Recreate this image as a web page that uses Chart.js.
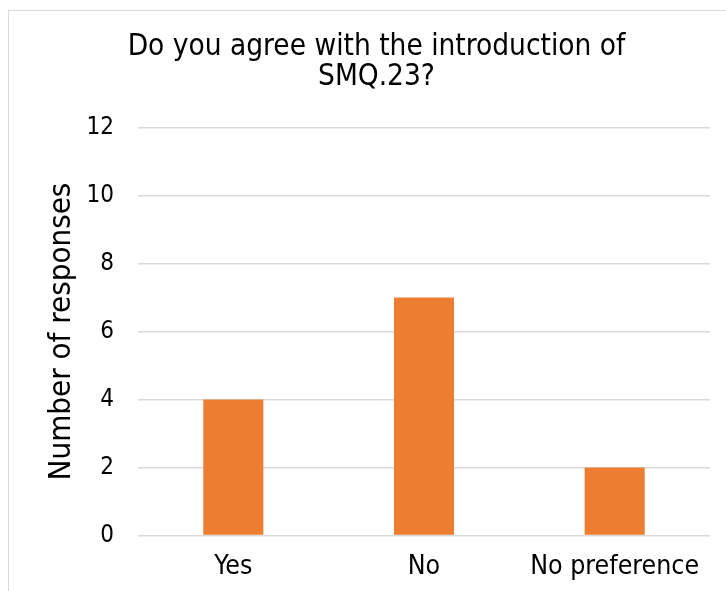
<!DOCTYPE html>
<html>
<head>
<meta charset="utf-8">
<script src="https://cdn.jsdelivr.net/npm/chart.js@4"></script>
<style>
  html, body { margin: 0; padding: 0; background: #fff; overflow: hidden; }
  #box { position: absolute; left: 8px; top: 10px; width: 762px; height: 600px; border: 1px solid #d9d9d9; }
  #chart { position: absolute; left: 0; top: 0; }
</style>
</head>
<body>
<div id="box"><canvas id="chart" width="732" height="600"></canvas></div>
<script>
var categories = ["Yes", "No", "No preference"];
var responses = [4, 7, 2];
var yTicks = [0, 2, 4, 6, 8, 10, 12];
var titleLines = ["Do you agree with the introduction of", "SMQ.23?"];

var fontName = "DejaVu Sans Condensed";

var ctx = document.getElementById("chart").getContext("2d");
var chart = new Chart(ctx, {
  type: "bar",
  data: {
    labels: categories,
    datasets: [{
      label: "Number of responses",
      data: responses,
      backgroundColor: "#ED7D31",
      barPercentage: 0.315,
      categoryPercentage: 1
    }]
  },
  options: {
    responsive: false,
    animation: false,
    // left padding shifts the title centre to match the original
    layout: { padding: { left: 34, right: 31, top: 0, bottom: 0 } },
    plugins: {
      legend: { display: false },
      tooltip: { enabled: false },
      title: {
        display: true,
        text: titleLines,
        color: "#000",
        font: { family: fontName, size: 29.5, weight: "normal", lineHeight: 1 },
        padding: { top: 21.75, bottom: 35.75 }
      }
    },
    scales: {
      x: {
        grid: { display: false, drawTicks: false },
        border: { display: false },
        ticks: { color: "#000", font: { family: fontName, size: 26.5 }, padding: 16 },
        afterFit: function (s) { s.height = 600 - 524.5; }
      },
      y: {
        min: yTicks[0],
        max: yTicks[yTicks.length - 1],
        grid: { color: "#d9d9d9", lineWidth: 1.5, drawTicks: false },
        border: { display: false },
        afterBuildTicks: function (s) { s.ticks = yTicks.map(function (v) { return { value: v }; }); },
        ticks: { color: "#000", font: { family: fontName, size: 24 }, padding: 24 },
        title: {
          display: true,
          text: "Number of responses",
          color: "#000",
          font: { family: fontName, size: 31 },
          padding: { top: 0, bottom: 0 }
        },
        afterFit: function (s) { s.width = 95; }
      }
    }
  }
});
</script>
</body>
</html>
